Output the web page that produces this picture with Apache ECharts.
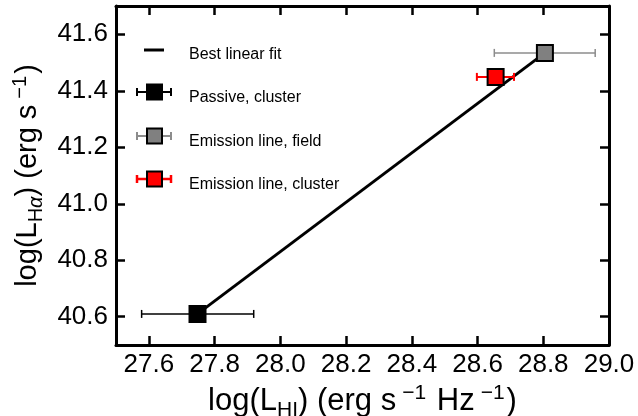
<!DOCTYPE html>
<html><head><meta charset="utf-8">
<script src="https://cdn.jsdelivr.net/npm/echarts@6/dist/echarts.min.js"></script>
<style>html,body{margin:0;padding:0;background:#fff}#c{width:638px;height:416px}</style>
</head><body><div id="c"></div>
<script>
// ---- data ----
const seriesNames = ['Best linear fit', 'Passive, cluster', 'Emission line, field', 'Emission line, cluster'];
const pointX = [27.748, 28.805, 28.655];
const pointY = [40.610, 41.534, 41.449];
const errLow = [27.578, 28.651, 28.598];
const errHigh = [27.919, 28.958, 28.711];
const fitX = [27.748, 28.805];
const fitY = [40.610, 41.534];
const xTicks = [27.6, 27.8, 28.0, 28.2, 28.4, 28.6, 28.8, 29.0];
const yTicks = [40.6, 40.8, 41.0, 41.2, 41.4, 41.6];

// ---- styles ----
const FF = 'Liberation Sans, Arial, Helvetica, sans-serif';
const fillColors = ['#000000', '#808080', '#ff0000'];
const errColors = ['#000000', '#8c8c8c', '#ff0000'];
const errWidths = [1.5, 1.5, 2];

const chart = echarts.init(document.getElementById('c'), null, {renderer: 'canvas'});

function errRender(idx) {
  return function (params, api) {
    const lo = api.coord([api.value(1), api.value(0)]);
    const hi = api.coord([api.value(2), api.value(0)]);
    const st = {stroke: errColors[idx], lineWidth: errWidths[idx]};
    const cap = 4;
    return {type: 'group', children: [
      {type: 'line', shape: {x1: lo[0], y1: lo[1], x2: hi[0], y2: hi[1]}, style: st},
      {type: 'line', shape: {x1: lo[0], y1: lo[1] - cap, x2: lo[0], y2: lo[1] + cap}, style: st},
      {type: 'line', shape: {x1: hi[0], y1: hi[1] - cap, x2: hi[0], y2: hi[1] + cap}, style: st}
    ]};
  };
}

const series = [];
series.push({
  name: seriesNames[0], type: 'line', data: fitX.map((x, i) => [x, fitY[i]]),
  symbol: 'none', lineStyle: {color: '#000', width: 3}, z: 2, silent: true
});
for (let i = 0; i < 3; i++) {
  series.push({
    name: seriesNames[i + 1] + ' err', type: 'custom', renderItem: errRender(i),
    data: [[pointY[i], errLow[i], errHigh[i]]],
    encode: {x: [1, 2], y: 0}, z: 3, silent: true
  });
}
for (let i = 0; i < 3; i++) {
  series.push({
    name: seriesNames[i + 1], type: 'scatter', symbol: 'rect', symbolSize: 16,
    data: [[pointX[i], pointY[i]]],
    itemStyle: {color: fillColors[i], borderColor: '#000', borderWidth: 2, opacity: 1},
    z: 4, silent: true
  });
}

// legend drawn as graphics
const legendRows = [92, 136, 179];
const graphic = [
  {type: 'line', shape: {x1: 144, y1: 50, x2: 164, y2: 50}, style: {stroke: '#000', lineWidth: 3}},
  {type: 'text', x: 189, y: 55, style: {text: seriesNames[0], fontSize: 16, fontFamily: FF, fill: '#000', verticalAlign: 'middle'}}
];
legendRows.forEach((y, i) => {
  const st = {stroke: errColors[i], lineWidth: errWidths[i] + 0.5};
  graphic.push({type: 'line', shape: {x1: 137, y1: y, x2: 171, y2: y}, style: st});
  graphic.push({type: 'line', shape: {x1: 137, y1: y - 4, x2: 137, y2: y + 4}, style: st});
  graphic.push({type: 'line', shape: {x1: 171, y1: y - 4, x2: 171, y2: y + 4}, style: st});
  graphic.push({type: 'rect', shape: {x: 147, y: y - 7.5, width: 15, height: 15}, style: {fill: fillColors[i], stroke: '#000', lineWidth: 2}});
  graphic.push({type: 'text', x: 189, y: y + 6, style: {text: seriesNames[i + 1], fontSize: 16, fontFamily: FF, fill: '#000', verticalAlign: 'middle'}});
});

function richTitle(F, f) {
  return {
    n: {fontSize: F, fontFamily: FF, color: '#000', lineHeight: F + 7},
    s: {fontSize: f, fontFamily: FF, color: '#000', lineHeight: f + 2, verticalAlign: 'bottom'},
    a: {fontSize: f, fontFamily: FF, color: '#000', lineHeight: f + 2, verticalAlign: 'bottom', fontStyle: 'italic'},
    p: {fontSize: f, fontFamily: FF, color: '#000', lineHeight: f, verticalAlign: 'top', padding: [0, 2, 0, 6]}
  };
}

const axisLineS = {show: true, onZero: false, lineStyle: {color: '#000', width: 3}};
const tickS = (vals) => ({show: true, inside: true, length: 9, customValues: vals, lineStyle: {color: '#000', width: 2.5}});
const labelS = (vals, m) => ({show: true, customValues: vals, formatter: v => v.toFixed(1), fontSize: 26, fontFamily: FF, color: '#000', margin: m});

const option = {
  animation: false,
  backgroundColor: '#fff',
  grid: {left: 116, right: 29, top: 6, bottom: 71, containLabel: false, outerBoundsMode: 'none'},
  xAxis: [
    {type: 'value', min: 27.5, max: 29.0, position: 'bottom', axisLine: axisLineS,
     axisTick: tickS(xTicks), axisLabel: labelS(xTicks, 7), splitLine: {show: false},
     name: '{n|log(L}{s|HI}{n|) (erg s}{p|−1}{n| Hz}{p|−1}{n|)}', nameLocation: 'middle', nameGap: 33,
     nameTextStyle: {rich: richTitle(31, 21)}},
    {type: 'value', min: 27.5, max: 29.0, position: 'top', axisLine: axisLineS,
     axisTick: tickS(xTicks), axisLabel: {show: false}, splitLine: {show: false}}
  ],
  yAxis: [
    {type: 'value', min: 40.5, max: 41.7, position: 'left', axisLine: axisLineS,
     axisTick: tickS(yTicks), axisLabel: labelS(yTicks, 8), splitLine: {show: false},
     name: '{n|log(L}{s|H}{a|α}{n|) (erg s}{p|−1}{n|)}', nameLocation: 'middle', nameGap: 70,
     nameTextStyle: {rich: richTitle(29, 20)}},
    {type: 'value', min: 40.5, max: 41.7, position: 'right', axisLine: axisLineS,
     axisTick: tickS(yTicks), axisLabel: {show: false}, splitLine: {show: false}}
  ],
  graphic: graphic,
  series: series
};
chart.setOption(option);
</script>
</body></html>
